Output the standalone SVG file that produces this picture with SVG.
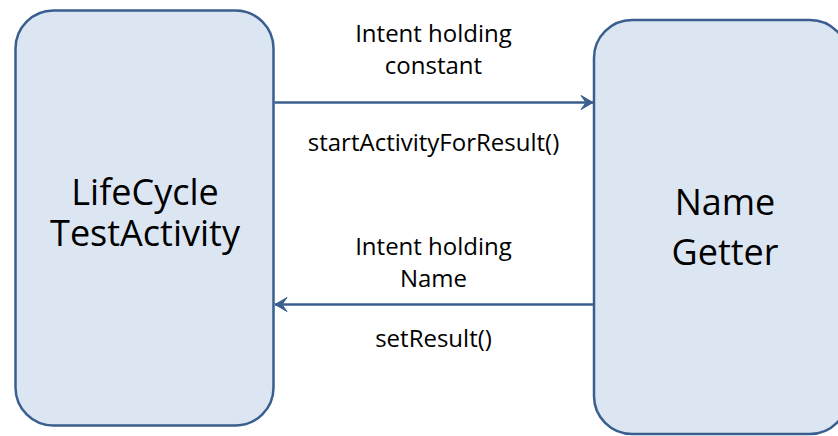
<svg xmlns="http://www.w3.org/2000/svg" width="838" height="436" viewBox="0 0 838 436">
  <style>
    .box { fill: #DCE6F2; stroke: #3A5F8E; stroke-width: 2.5; }
    .link { fill: none; stroke: #3A5F8E; stroke-width: 2.5; }
    .lbl { font-family: "Open Sans", "Liberation Sans", sans-serif; font-size: 24px; fill: #000; text-anchor: middle; }
    .node { font-family: "Open Sans", "Liberation Sans", sans-serif; font-size: 36px; fill: #000; text-anchor: middle; }
  </style>
  <defs>
    <marker id="arrow" viewBox="0 0 14 16" refX="13" refY="8" markerWidth="14" markerHeight="16" markerUnits="userSpaceOnUse" orient="auto">
      <path d="M13,8 L1,1 L6,8 L1,15 Z" fill="#3A5F8E" stroke="#3A5F8E" stroke-width="1" stroke-linejoin="miter"/>
    </marker>
  </defs>
  <rect width="838" height="436" fill="#FFFFFF"/>

  <g id="lifecycle-activity">
    <rect class="box" x="15.5" y="10.5" width="258" height="415" rx="38" ry="38"/>
    <text class="node" x="145" y="205">LifeCycle</text>
    <text class="node" x="145" y="246">TestActivity</text>
  </g>

  <g id="name-getter">
    <rect class="box" x="594" y="20" width="254" height="414" rx="38" ry="38"/>
    <text class="node" x="725" y="215">Name</text>
    <text class="node" x="725" y="265">Getter</text>
  </g>

  <g id="connectors">
    <line class="link" x1="274.5" y1="102.5" x2="593" y2="102.5" marker-end="url(#arrow)"/>
    <line class="link" x1="593" y1="304.5" x2="275" y2="304.5" marker-end="url(#arrow)"/>
  </g>

  <g id="labels">
    <text class="lbl" x="433.5" y="41.5">Intent holding</text>
    <text class="lbl" x="433.5" y="73.5">constant</text>
    <text class="lbl" x="433.5" y="151">startActivityForResult()</text>
    <text class="lbl" x="433.5" y="254.5">Intent holding</text>
    <text class="lbl" x="433.5" y="286.5">Name</text>
    <text class="lbl" x="433.5" y="346.5">setResult()</text>
  </g>
</svg>
